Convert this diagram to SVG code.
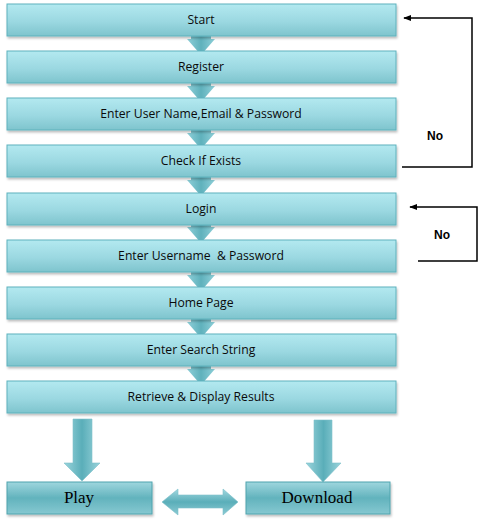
<svg xmlns="http://www.w3.org/2000/svg" width="486" height="532" viewBox="0 0 486 532">
<defs>
<linearGradient id="gBox" x1="0" y1="0" x2="0" y2="1">
<stop offset="0" stop-color="#b3e9f0"/>
<stop offset="0.55" stop-color="#9bd8e1"/>
<stop offset="1" stop-color="#7ec4cd"/>
</linearGradient>
<linearGradient id="gArr" x1="0" y1="0" x2="1" y2="0">
<stop offset="0" stop-color="#8fd0d9"/>
<stop offset="0.5" stop-color="#5fb1bc"/>
<stop offset="1" stop-color="#8fd0d9"/>
</linearGradient>
<linearGradient id="gBig" x1="0" y1="0" x2="0" y2="1">
<stop offset="0" stop-color="#9fd6de"/>
<stop offset="0.5" stop-color="#62b3bd"/>
<stop offset="1" stop-color="#86c8d1"/>
</linearGradient>
<linearGradient id="gDown" x1="0" y1="0" x2="1" y2="0">
<stop offset="0" stop-color="#9ad4dc"/>
<stop offset="0.5" stop-color="#5aaeb9"/>
<stop offset="1" stop-color="#9ad4dc"/>
</linearGradient>
<linearGradient id="gDbl" x1="0" y1="0" x2="0" y2="1">
<stop offset="0" stop-color="#a2d8e0"/>
<stop offset="0.5" stop-color="#5aaeb9"/>
<stop offset="1" stop-color="#8ccbd4"/>
</linearGradient>
<filter id="sh" x="-5%" y="-20%" width="110%" height="150%">
<feDropShadow dx="1" dy="2" stdDeviation="1" flood-color="#000" flood-opacity="0.25"/>
</filter>
<marker id="ah" viewBox="0 0 10 10" refX="9" refY="5" markerWidth="8" markerHeight="8" markerUnits="userSpaceOnUse" orient="auto">
<path d="M0,1 L10,5 L0,9 Z" fill="#000"/>
</marker>
</defs>
<style>
.box{fill:url(#gBox);stroke:#5eb2bd;stroke-width:1;filter:url(#sh)}
.big{fill:url(#gBig);stroke:#4fa4ae;stroke-width:1;filter:url(#sh)}
.lbl{font-family:"Open Sans","Liberation Sans",sans-serif;font-size:12.2px;fill:#0a0a0a;text-anchor:middle;white-space:pre}
.blbl{font-family:"Liberation Serif","Times New Roman",serif;font-size:17px;fill:#000;text-anchor:middle}
.no{font-family:"Liberation Sans",Arial,sans-serif;font-size:12px;font-weight:bold;fill:#000;text-anchor:middle}
.fb{fill:none;stroke:#000;stroke-width:1.5}
.sarr{fill:url(#gArr)}
.darr{fill:url(#gDown);stroke:#7cc0c9;stroke-width:0.6}
</style>
<g id="connectors">
<path class="sarr" d="M191,36 H211 V39 H215 L201,55 L187,39 H191 Z"/>
<path class="sarr" d="M191,83 H211 V86 H215 L201,102 L187,86 H191 Z"/>
<path class="sarr" d="M191,130 H211 V133 H215 L201,149 L187,133 H191 Z"/>
<path class="sarr" d="M191,177 H211 V180 H215 L201,196 L187,180 H191 Z"/>
<path class="sarr" d="M191,224 H211 V227 H215 L201,243 L187,227 H191 Z"/>
<path class="sarr" d="M191,272 H211 V275 H215 L201,291 L187,275 H191 Z"/>
<path class="sarr" d="M191,319 H211 V322 H215 L201,338 L187,322 H191 Z"/>
<path class="sarr" d="M191,366 H211 V369 H215 L201,385 L187,369 H191 Z"/>
<path class="darr" d="M73,419 H92 V463 H100 L82,481 L64,463 H73 Z"/>
<path class="darr" d="M314,420 H332 V463 H341 L323,482 L306,463 H314 Z"/>
<path class="darr" style="fill:url(#gDbl)" d="M162,502 L178,489 V495 H223 V489 L238,502 L223,515 V508 H178 V515 Z"/>
<path class="fb" d="M402,167 H472 V18 H404" marker-end="url(#ah)"/>
<path class="fb" d="M418,261 H477 V207 H410" marker-end="url(#ah)"/>
</g>
<text class="no" x="435" y="140">No</text>
<text class="no" x="442" y="239">No</text>
<g id="n1"><rect class="box" x="7" y="4" width="389" height="32"/><text class="lbl" x="201" y="24">Start</text></g>
<g id="n2"><rect class="box" x="7" y="51" width="389" height="32"/><text class="lbl" x="201" y="71">Register</text></g>
<g id="n3"><rect class="box" x="7" y="98" width="389" height="32"/><text class="lbl" x="201" y="118">Enter User Name,Email &amp; Password</text></g>
<g id="n4"><rect class="box" x="7" y="145" width="389" height="32"/><text class="lbl" x="201" y="165">Check If Exists</text></g>
<g id="n5"><rect class="box" x="7" y="193" width="389" height="32"/><text class="lbl" x="201" y="213">Login</text></g>
<g id="n6"><rect class="box" x="7" y="240" width="389" height="32"/><text class="lbl" x="201" y="260" xml:space="preserve">Enter Username  &amp; Password</text></g>
<g id="n7"><rect class="box" x="7" y="287" width="389" height="32"/><text class="lbl" x="201" y="307">Home Page</text></g>
<g id="n8"><rect class="box" x="7" y="334" width="389" height="32"/><text class="lbl" x="201" y="354">Enter Search String</text></g>
<g id="n9"><rect class="box" x="7" y="381" width="389" height="32"/><text class="lbl" x="201" y="401">Retrieve &amp; Display Results</text></g>
<g id="n10"><rect class="big" x="7" y="482" width="145" height="32"/><text class="blbl" x="79" y="503">Play</text></g>
<g id="n11"><rect class="big" x="246" y="482" width="144" height="32"/><text class="blbl" x="317" y="503">Download</text></g>
</svg>
